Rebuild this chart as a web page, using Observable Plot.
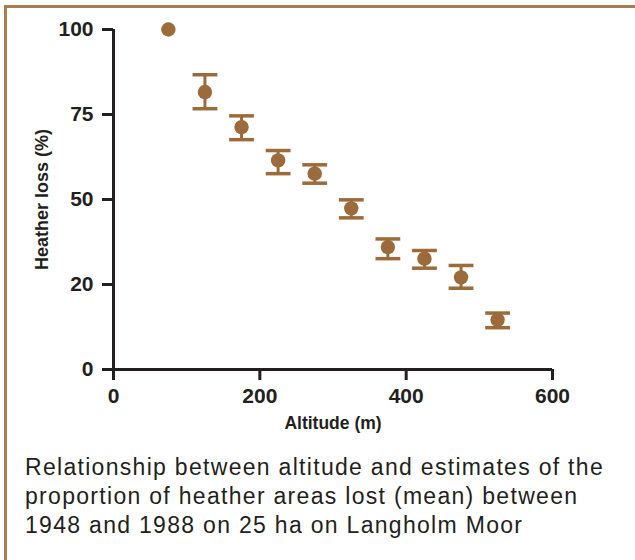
<!DOCTYPE html>
<html>
<head>
<meta charset="utf-8">
<script src="https://cdn.jsdelivr.net/npm/d3@7"></script>
<script src="https://cdn.jsdelivr.net/npm/@observablehq/plot@0.6"></script>
<style>
  html, body { margin: 0; padding: 0; background: #fff; }
  #wrap { position: relative; width: 635px; height: 560px; overflow: hidden; }
  #topline { position: absolute; left: 4px; top: 5px; width: 640px; height: 3px; background: #a97c4e; }
  #leftline { position: absolute; left: 4px; top: 5px; width: 3px; height: 560px; background: #a97c4e; }
  #chart { position: absolute; left: 0; top: 0; }
  #caption { position: absolute; left: 25px; top: 453px; width: 610px; white-space: nowrap;
    font-family: "Liberation Sans", Arial, Helvetica, sans-serif; font-size: 23px;
    letter-spacing: 1.3px; line-height: 29px; color: #231f20; }
</style>
</head>
<body>
<div id="wrap">
  <div id="chart"></div>
  <div id="topline"></div>
  <div id="leftline"></div>
  <div id="caption">Relationship between altitude and estimates of the<br>proportion of heather areas lost (mean) between<br>1948 and 1988 on 25 ha on Langholm Moor</div>
</div>
<script>
const altitude = [75, 125, 175, 225, 275, 325, 375, 425, 475, 525];
const meanLoss = [100, 81.6, 71.3, 61.5, 57.6, 47.4, 36.0, 32.6, 27.1, 14.6];
const upperLoss = [null, 86.7, 74.6, 64.4, 60.2, 49.9, 38.4, 35.0, 30.6, 16.6];
const lowerLoss = [null, 76.7, 67.6, 57.6, 54.8, 44.6, 32.6, 29.8, 23.9, 12.3];

const xTickValues = [0, 200, 400, 600];
const xTickLabels = ["0", "200", "400", "600"];
const yTickValues = [0, 25, 50, 75, 100];
const yTickLabels = ["0", "20", "50", "75", "100"];

const xTitle = "Altitude (m)";
const yTitle = "Heather loss (%)";

const data = altitude.map((a, i) => ({
  altitude: a, mean: meanLoss[i], upper: upperLoss[i], lower: lowerLoss[i]
}));
const bars = data.filter(d => d.upper != null);

const brown = "#9b6b3b";
const ink = "#231f20";
const capSymbol = {
  draw(context, size) {
    const w = Math.sqrt(size);
    context.moveTo(-w, 0);
    context.lineTo(w, 0);
  }
};

const chart = Plot.plot({
  width: 635,
  height: 440,
  marginLeft: 113,
  marginRight: 83,
  marginTop: 29,
  marginBottom: 71,
  style: { fontFamily: "Liberation Sans, Arial, sans-serif", background: "transparent", color: ink },
  x: { domain: [0, 600] },
  y: { domain: [0, 100] },
  marks: [
    Plot.axisX({ ticks: xTickValues, tickFormat: d => xTickLabels[xTickValues.indexOf(d)],
      tickSize: 11, tickPadding: 8, strokeWidth: 3, stroke: ink, fill: ink,
      fontSize: 21, fontWeight: "bold", label: null }),
    Plot.axisY({ ticks: yTickValues, tickFormat: d => yTickLabels[yTickValues.indexOf(d)],
      tickSize: 11, tickPadding: 9, strokeWidth: 3, stroke: ink, fill: ink,
      fontSize: 21, fontWeight: "bold", label: null }),
    Plot.ruleX([0], { y1: 0, y2: 100, stroke: ink, strokeWidth: 3 }),
    Plot.ruleY([0], { x1: 0, x2: 600, stroke: ink, strokeWidth: 3 }),
    Plot.ruleX(bars, { x: "altitude", y1: "lower", y2: "upper", stroke: brown, strokeWidth: 3 }),
    Plot.dot(bars, { x: "altitude", y: "upper", symbol: capSymbol, r: 7, stroke: brown, strokeWidth: 3.5, fill: "none" }),
    Plot.dot(bars, { x: "altitude", y: "lower", symbol: capSymbol, r: 7, stroke: brown, strokeWidth: 3.5, fill: "none" }),
    Plot.dot(data, { x: "altitude", y: "mean", r: 7.2, fill: brown, stroke: "none" }),
    Plot.text([xTitle], { frameAnchor: "bottom", lineAnchor: "middle", dy: 54, fontSize: 17.5, fontWeight: "bold", fill: ink }),
    Plot.text([yTitle], { frameAnchor: "left", textAnchor: "middle", lineAnchor: "middle", dx: -71, rotate: -90, fontSize: 18, fontWeight: "bold", fill: ink })
  ]
});
document.getElementById("chart").appendChild(chart);
</script>
</body>
</html>
